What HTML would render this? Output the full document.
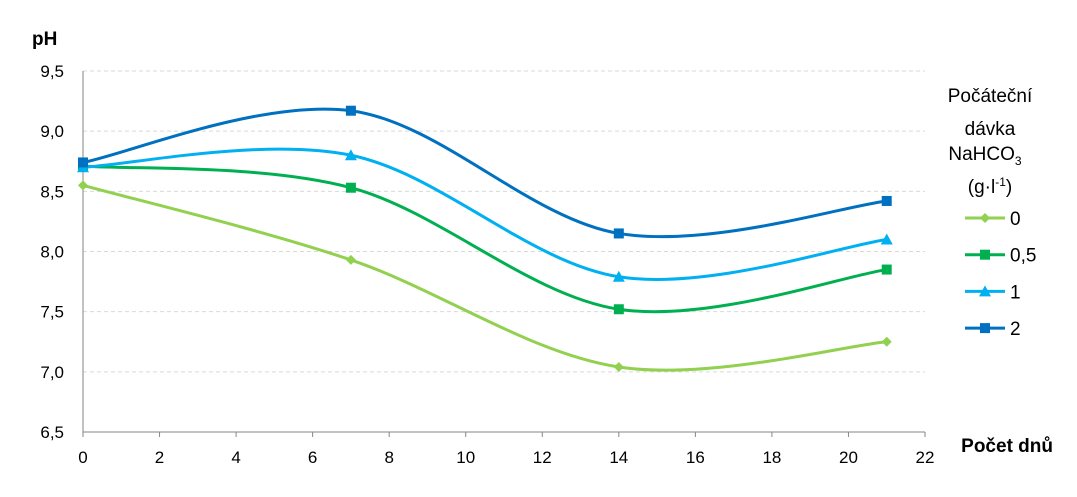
<!DOCTYPE html>
<html><head><meta charset="utf-8"><style>
body{margin:0;background:#fff;font-family:"Liberation Sans",sans-serif}
svg text{font-family:"Liberation Sans",sans-serif;fill:#000}
</style></head><body>
<svg id="c" width="1077" height="492"></svg>
<script>
const days=[0,7,14,21];
const seriesNames=["0","0,5","1","2"];
const s0=[8.55,7.93,7.04,7.25];
const s05=[8.71,8.53,7.52,7.85];
const s1=[8.70,8.80,7.79,8.10];
const s2=[8.74,9.17,8.15,8.42];
const xTicks=[0,2,4,6,8,10,12,14,16,18,20,22];
const yTicks=[6.5,7.0,7.5,8.0,8.5,9.0,9.5];
const yLabels=["6,5","7,0","7,5","8,0","8,5","9,0","9,5"];
const colors=["#92D050","#00B050","#00B0F0","#0070C0"];
const markers=["diamond","square","triangle","square"];
const all=[s0,s05,s1,s2];
const NS="http://www.w3.org/2000/svg";
const svg=document.getElementById('c');
const X=v=>83+(v-0)*(925-83)/22;
const Y=v=>432-(v-6.5)*(432-71)/3;
function mk(t,a,p){const e=document.createElementNS(NS,t);for(const k in a)e.setAttribute(k,a[k]);(p||svg).appendChild(e);return e;}
yTicks.forEach((v,i)=>{
 if(i>0){const g=mk('line',{x1:83,x2:925,y1:Y(v),y2:Y(v),stroke:'#d9d9d9','stroke-dasharray':'4,3'});
 }
 const t=mk('text',{x:64,y:Y(v)+6,'text-anchor':'end','font-size':17});t.textContent=yLabels[i];
 
});
let ax=mk('line',{x1:83,x2:83,y1:71,y2:432,stroke:'#868686'});
ax=mk('line',{x1:83,x2:925,y1:432,y2:432,stroke:'#868686'});
xTicks.forEach(v=>{
 mk('line',{x1:X(v),x2:X(v),y1:432,y2:437,stroke:'#868686'});
 const t=mk('text',{x:X(v),y:463,'text-anchor':'middle','font-size':17});t.textContent=v;
 
});
let t=mk('text',{x:32,y:45,'font-size':19,'font-weight':'bold'});t.textContent='pH';

t=mk('text',{x:1053,y:452,'text-anchor':'end','font-size':19,'font-weight':'bold'});t.textContent='Počet dnů';

function marker(type,x,y,col,p,s){
 if(type==='diamond')return mk('polygon',{points:`${x},${y-5} ${x+5},${y} ${x},${y+5} ${x-5},${y}`,fill:col},p);
 if(type==='triangle')return mk('polygon',{points:`${x},${y-6} ${x+6},${y+5} ${x-6},${y+5}`,fill:col},p);
 return mk('rect',{x:x-5,y:y-5,width:10,height:10,fill:col},p);
}
all.forEach((s,si)=>{
 const g=mk('g',{});
 const P=days.map((d,i)=>[X(d),Y(s[i])]);
 let d=`M${P[0][0]},${P[0][1]}`;
 for(let i=0;i<P.length-1;i++){
  const p0=P[Math.max(i-1,0)],p1=P[i],p2=P[i+1],p3=P[Math.min(i+2,P.length-1)];
  const c1=[p1[0]+(p2[0]-p0[0])/6,p1[1]+(p2[1]-p0[1])/6];
  const c2=[p2[0]-(p3[0]-p1[0])/6,p2[1]-(p3[1]-p1[1])/6];
  d+=` C${c1[0]},${c1[1]} ${c2[0]},${c2[1]} ${p2[0]},${p2[1]}`;
 }
 const l=mk('path',{d,fill:'none',stroke:colors[si],'stroke-width':3},g);
 
 P.forEach(p=>{const m=marker(markers[si],p[0],p[1],colors[si],g);
  });
});
const lg=mk('g',{});
const title=mk('text',{'font-size':19,'text-anchor':'middle'},lg);

title.innerHTML='<tspan x="990" y="102">Počáteční</tspan><tspan x="990" y="135">dávka</tspan><tspan x="985" y="160">NaHCO</tspan><tspan font-size="12" dy="5">3</tspan><tspan x="990" y="193">(g·l</tspan><tspan font-size="12" dy="-7">-1</tspan><tspan font-size="19" dy="7">)</tspan>';
seriesNames.forEach((n,i)=>{
 const y=218+i*36.7;
 const e=mk('g',{},lg);
 mk('line',{x1:965,x2:1005,y1:y,y2:y,stroke:colors[i],'stroke-width':3},e);
 marker(markers[i],985,y,colors[i],e);
 const tt=mk('text',{x:1010,y:y+7,'font-size':19},e);tt.textContent=n;
});
</script>
</body></html>
